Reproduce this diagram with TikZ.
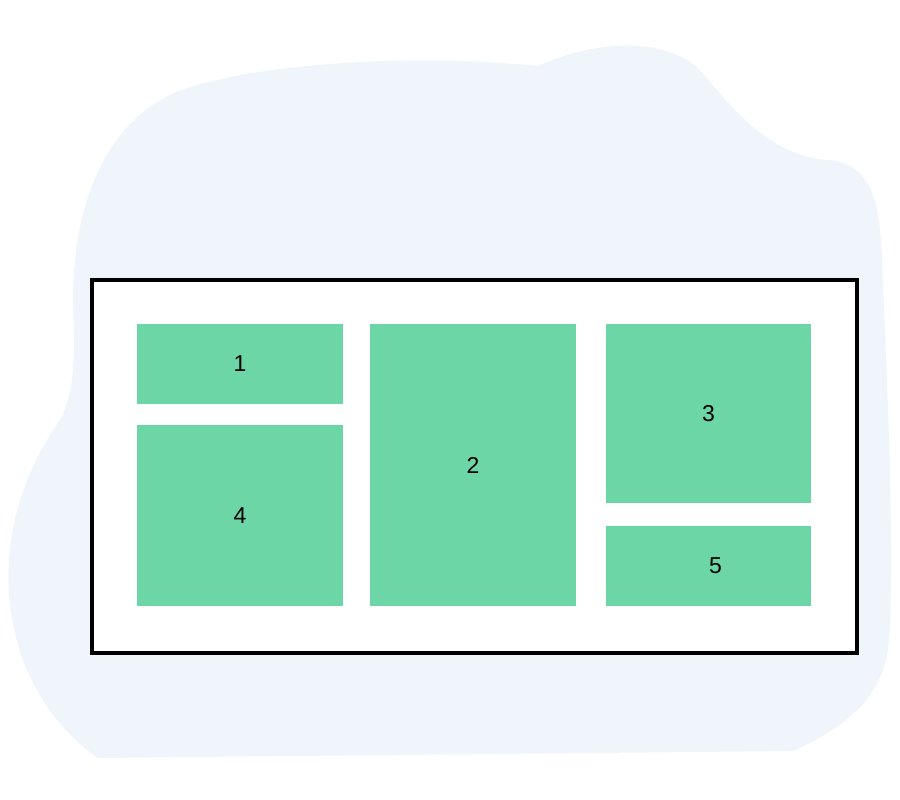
\documentclass[tikz,border=0pt]{standalone}
\usepackage{fontspec}
\setmainfont{Liberation Sans}
\definecolor{blobblue}{RGB}{240,245,252}
\definecolor{tilegreen}{RGB}{109,214,166}
\tikzset{
  tile/.style={fill=tilegreen, inner sep=0pt, font=\fontsize{23}{27}\selectfont},
}
\begin{document}
\begin{tikzpicture}[x=1pt,y=-1pt]
% Set the canvas size
\useasboundingbox (0,0) rectangle (900,800);

% Draw the background blob
\fill[blobblue] (190,87) .. controls (280,60) and (430,55) .. (538,66)
  .. controls (590,42) and (660,35) .. (698,68)
  .. controls (730,105) and (770,158) .. (830,160)
  .. controls (875,165) and (880,210) .. (882,260)
  .. controls (888,400) and (895,560) .. (889,640)
  .. controls (885,700) and (840,730) .. (793,751)
  -- (98,758)
  .. controls (0,690) and (-25,540) .. (60,420)
  .. controls (78,385) and (74,340) .. (73,300)
  .. controls (73,190) and (115,110) .. (190,87) -- cycle;

% Draw the frame
\draw[line width=3.5pt, fill=white] (92,280) rectangle (857,653);

% Draw the tiles and insert the numbers
\node[tile, minimum width=206pt, minimum height=80pt] (tile1) at (240,364) {1};
\node[tile, minimum width=206pt, minimum height=282pt] (tile2) at (473,465) {2};
\node[tile, minimum width=205pt, minimum height=179pt] (tile3) at (708.5,413.5) {3};
\node[tile, minimum width=206pt, minimum height=181pt] (tile4) at (240,515.5) {4};
\node[tile, minimum width=205pt, minimum height=80pt] (tile5) at (708.5,566) {\hspace*{14pt}5};
\end{tikzpicture}
\end{document}
